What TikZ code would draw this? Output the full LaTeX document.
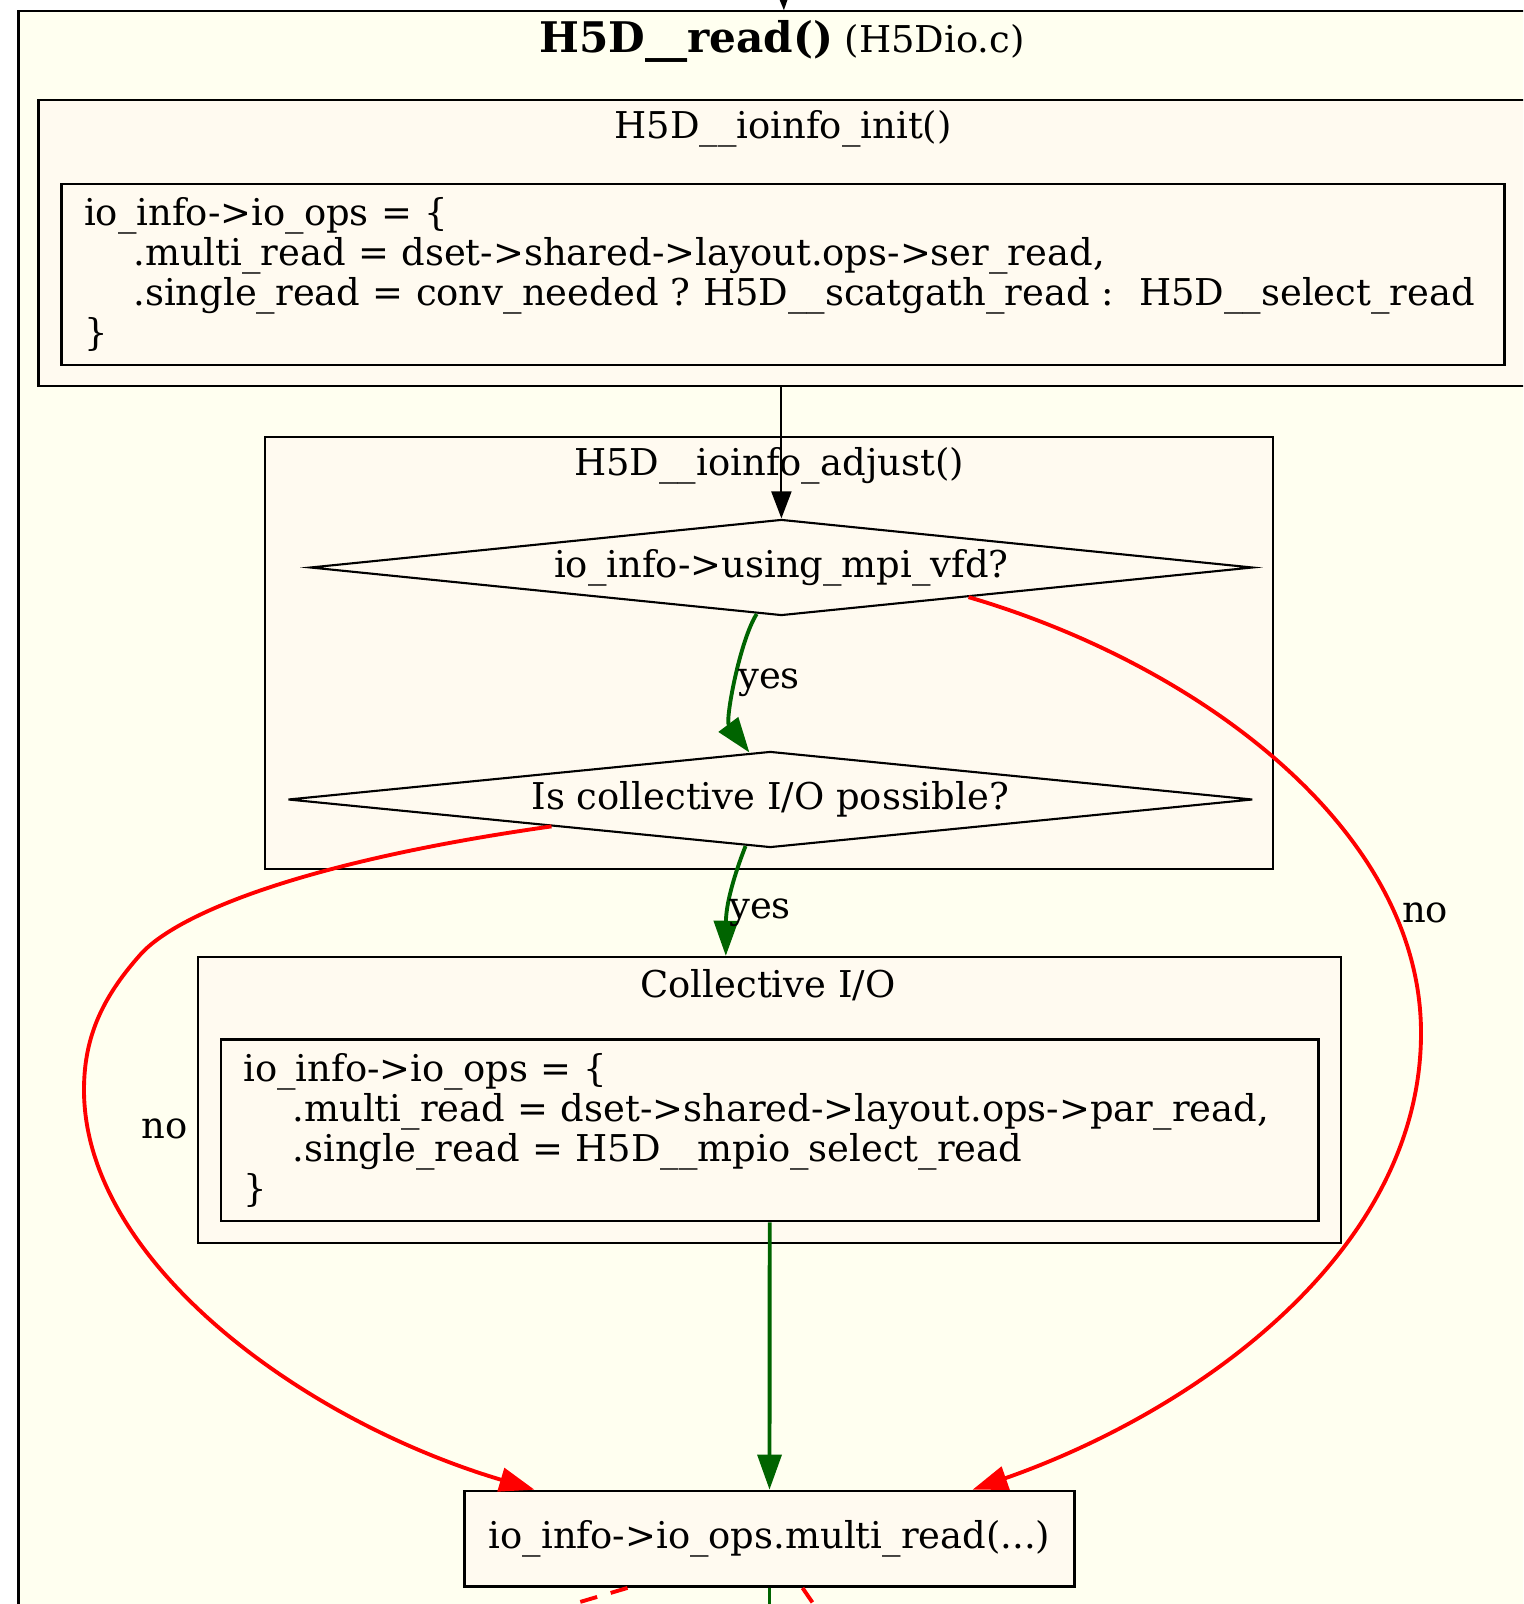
\documentclass[tikz,border=0pt]{standalone}
\usepackage{fontspec}
\setmainfont{DejaVu Serif}
\usetikzlibrary{shapes.geometric,arrows.meta,positioning,calc}
\definecolor{ivorybg}{HTML}{FFFFF0}
\definecolor{floral}{HTML}{FFFAF0}
\definecolor{dkgreen}{HTML}{006400}

\begin{document}
\begin{tikzpicture}[x=0.01cm,y=-0.01cm,
  font=\fontsize{10.5}{11.4}\selectfont\frenchspacing,
  cluster/.style={draw,line width=0.6pt,fill=floral,inner sep=0pt},
  record/.style={draw,line width=0.7pt,fill=floral,inner xsep=0.225cm,inner ysep=0pt,align=left},
  decision/.style={draw,diamond,aspect=10,line width=0.6pt,fill=floral,inner sep=0pt},
  callarrow/.style={-{Triangle[length=7.7pt,width=5.7pt]},line width=0.6pt},
  yesarrow/.style={-{Triangle[length=10pt,width=6.8pt]},line width=1.1pt,dkgreen},
  noarrow/.style={-{Triangle[length=10pt,width=6.8pt]},line width=1.1pt,red},
  lbl/.style={inner sep=0pt}]
\useasboundingbox (0,0) rectangle (1523,1604);
\clip (0,0) rectangle (1523,1604);

% H5D__read() frame
\node[draw,line width=0.6pt,fill=ivorybg,anchor=north west,minimum width=15.3cm,minimum height=16.5cm,inner sep=0pt] (read) at (17.4,10.2) {};
\node (title) at (782,41) {{\fontsize{12}{14}\selectfont\bfseries H5D\_\_read()}\ (H5Dio.c)};

% init
\node[cluster,minimum width=14.872cm,minimum height=2.854cm] (init) at (782.5,243) {};
\node (initlbl) at (783,129) {H5D\_\_ioinfo\_init()};
\node[record,text width=13.97cm,minimum height=1.81cm] (initops) at (783,274.5) {io\_info->io\_ops = \{\\
\hspace*{14pt}.multi\_read = dset->shared->layout.ops->ser\_read,\\
\hspace*{14pt}.single\_read = conv\_needed ? H5D\_\_scatgath\_read :\ \ H5D\_\_select\_read\\
\}};

% adjust
\node[cluster,minimum width=10.08cm,minimum height=4.32cm] (adjust) at (769,652.7) {};
\node (adjustlbl) at (769,466) {H5D\_\_ioinfo\_adjust()};
\node[decision,minimum width=9.42cm,minimum height=0.96cm] (mpi) at (781.4,567.5) {io\_info->using\_mpi\_vfd?};
\node[decision,minimum width=9.64cm,minimum height=0.96cm] (coll) at (770.3,799.5) {Is collective I/O possible?};

% collective
\node[cluster,minimum width=11.425cm,minimum height=2.857cm] (collio) at (769.8,1099.9) {};
\node (colllbl) at (768,985) {Collective I/O};
\node[record,text width=10.52cm,minimum height=1.815cm] (collops) at (769.7,1130.3) {io\_info->io\_ops = \{\\
\hspace*{14pt}.multi\_read = dset->shared->layout.ops->par\_read,\\
\hspace*{14pt}.single\_read = H5D\_\_mpio\_select\_read\\
\}};

\node[draw,line width=0.7pt,fill=floral,minimum width=6.1cm,minimum height=0.957cm] (multi) at (769.5,1538.8) {io\_info->io\_ops.multi\_read(...)};

\coordinate (entry) at (782.4,-40);
\coordinate (outl) at (482,1631);
\coordinate (outm) at (769.5,1640);
\coordinate (outr) at (832,1631);

\draw[callarrow] (entry) -- (read.north);
\draw[callarrow] (init.south -| mpi.north) -- (mpi.north);

\draw[yesarrow] (mpi.242) .. controls (740,640) and (725,720) .. (coll.114);
\node[lbl] (yes1) at (769,683) {yes};
\draw[yesarrow] (coll.242) .. controls (738,865) and (726,900) .. ($(collio.north)+(-44,0)$);
\node[lbl] (yes2) at (760,913) {yes};
\draw[yesarrow] (collops.south) -- (multi.north);

\draw[noarrow] (mpi.-9.1) .. controls (1200,665) and (1421,830) .. (1421,1033)
  .. controls (1421,1250) and (1200,1410) .. ($(multi.north)+(203,0)$);
\node[lbl] (no1) at (1425,913) {no};
\draw[noarrow] (coll.187) .. controls (300,862) and (175,915) .. (140,955)
  .. controls (100,1000) and (84,1040) .. (84,1090)
  .. controls (84,1260) and (300,1420) .. ($(multi.north)+(-235,0)$);
\node[lbl] (no2) at (164.6,1129) {no};

\draw[red,line width=1.1pt,dash pattern=on 5pt off 4pt] ($(multi.south)+(-142,0)$) -- (outl);
\draw[dkgreen,line width=1.1pt] (multi.south) -- (outm);
\draw[red,line width=1.1pt,dash pattern=on 5pt off 4pt] ($(multi.south)+(33,0)$) -- (outr);
\end{tikzpicture}
\end{document}
